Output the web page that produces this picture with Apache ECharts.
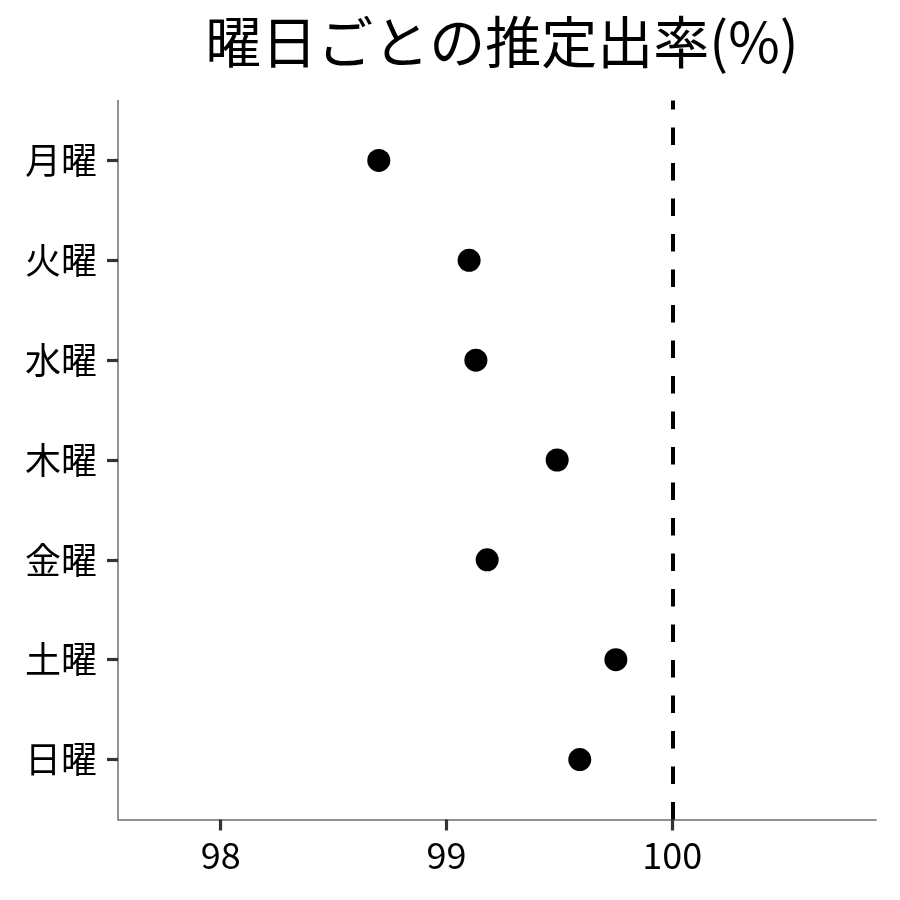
<!DOCTYPE html>
<html>
<head>
<meta charset="utf-8">
<script src="https://cdn.jsdelivr.net/npm/echarts@6/dist/echarts.min.js"></script>
<style>
  html, body { margin: 0; padding: 0; background: #fff; }
  #chart { width: 900px; height: 900px; }
</style>
</head>
<body>
<div id="chart"></div>
<script>
// days, top to bottom
const days = ['月曜', '火曜', '水曜', '木曜', '金曜', '土曜', '日曜'];
const rates = [98.70, 99.10, 99.13, 99.49, 99.18, 99.75, 99.59];
const xTicks = [98, 99, 100];
const refLine = 100;

const font = '"Noto Sans CJK JP", "Noto Sans", sans-serif';
const dayPos = days.map((d, i) => i + 1);

const chart = echarts.init(document.getElementById('chart'));
chart.setOption({
    backgroundColor: '#fff',
    animation: false,
    title: {
        text: '曜日ごとの推定出率(%)',
        left: 497,
        top: 9,
        textAlign: 'center',
        textStyle: { fontFamily: font, fontSize: 56, fontWeight: 'normal', color: '#000' }
    },
    grid: { left: 118, right: 24, top: 100.5, bottom: 80.5 },
    xAxis: {
        type: 'value',
        min: 97.545,
        max: 100.902,
        splitLine: { show: false },
        axisLine: { lineStyle: { color: '#6e6e6e', width: 1.5 } },
        axisTick: { show: true, customValues: xTicks, length: 11, lineStyle: { color: '#333', width: 3.2 } },
        axisLabel: {
            customValues: xTicks,
            margin: 18,
            color: '#000',
            fontFamily: font,
            fontSize: 36
        }
    },
    yAxis: {
        type: 'value',
        inverse: true,
        min: 0.4,
        max: 7.6,
        splitLine: { show: false },
        axisLine: { show: true, lineStyle: { color: '#6e6e6e', width: 1.5 } },
        axisTick: { show: true, customValues: dayPos, length: 11, lineStyle: { color: '#333', width: 3.2 } },
        axisLabel: {
            customValues: dayPos,
            formatter: v => days[Math.round(v) - 1],
            margin: 21,
            color: '#000',
            fontFamily: font,
            fontSize: 36
        }
    },
    series: [{
        type: 'scatter',
        symbol: 'circle',
        symbolSize: 23,
        itemStyle: { color: '#000', opacity: 1 },
        data: rates.map((r, i) => [r, dayPos[i]]),
        markLine: {
            silent: true,
            symbol: 'none',
            label: { show: false },
            lineStyle: { color: '#000', width: 4, type: [17.5, 18] },
            data: [[{ coord: [refLine, 7.6] }, { coord: [refLine, 0.4] }]]
        }
    }]
});
</script>
</body>
</html>
